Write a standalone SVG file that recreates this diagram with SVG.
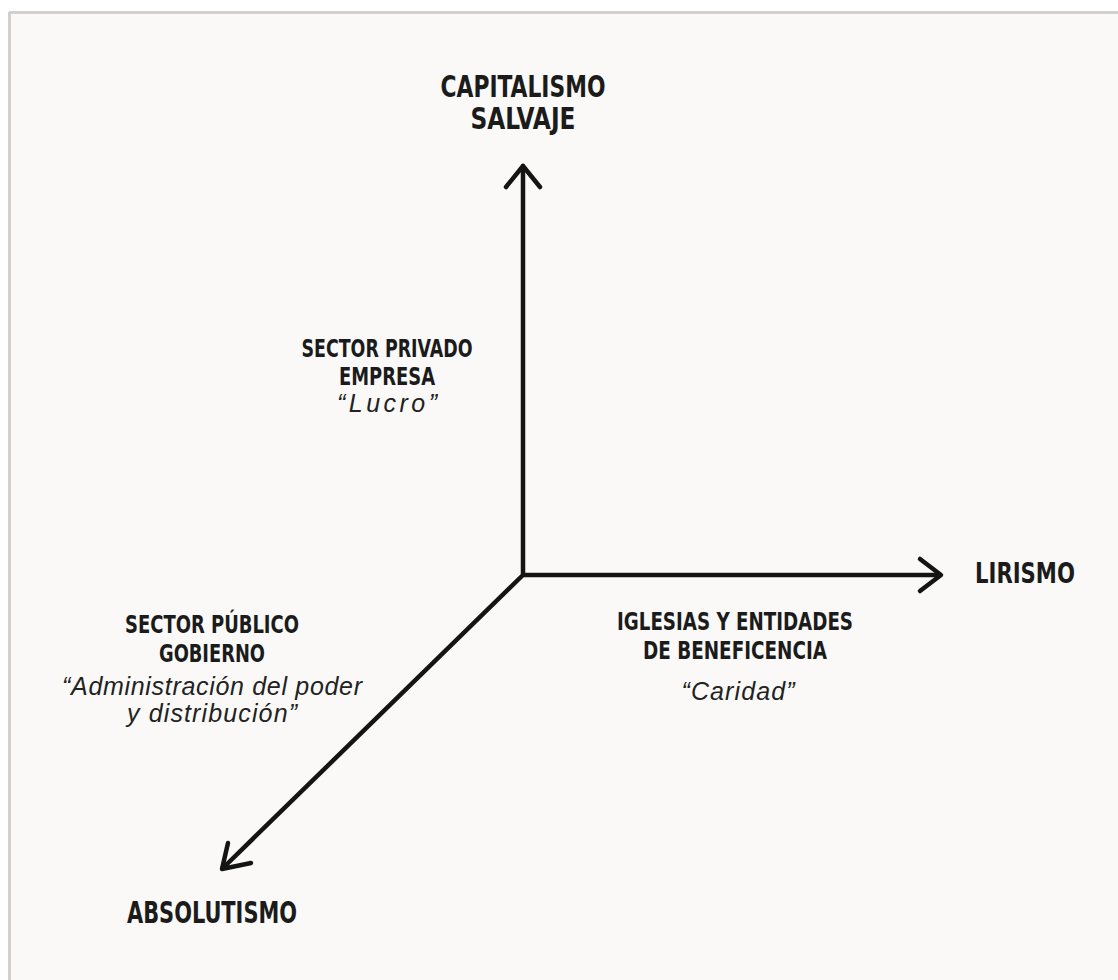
<svg xmlns="http://www.w3.org/2000/svg" width="1118" height="980" viewBox="0 0 1118 980">
<style>
.b{font-family:"Liberation Sans Narrow","DejaVu Sans Condensed","Liberation Sans",sans-serif;font-weight:bold;fill:#1b1b1b;text-anchor:middle}
.i{font-family:"Liberation Sans","Helvetica",sans-serif;font-style:italic;fill:#222;text-anchor:middle;font-size:25px}
.ax{stroke:#141414;stroke-width:4.5;fill:none;stroke-linecap:round;stroke-linejoin:round}
</style>
<rect x="0" y="0" width="1118" height="980" fill="#ffffff"/>
<rect x="9" y="12" width="1109" height="968" fill="#faf9f7"/>
<path d="M9 12.5H1118M9.5 12V980" stroke="#d2d0cd" stroke-width="3" fill="none"/>
<g id="connectors">
<path class="ax" d="M523 575V166M523 575H940M523 575L223 868"/>
<path class="ax" d="M506 187L523 166L540 187"/>
<path class="ax" d="M920 559L941 575L920 591"/>
<path class="ax" d="M228 843L222 869L251 863"/>
</g>
<g id="capitalismo">
<text class="b" x="523" y="97" font-size="30" textLength="165" lengthAdjust="spacingAndGlyphs">CAPITALISMO</text>
<text class="b" x="523" y="129" font-size="30" textLength="105" lengthAdjust="spacingAndGlyphs">SALVAJE</text>
</g>
<g id="privado">
<text class="b" x="387" y="357" font-size="24" textLength="171" lengthAdjust="spacingAndGlyphs">SECTOR PRIVADO</text>
<text class="b" x="387" y="385" font-size="24" textLength="96" lengthAdjust="spacingAndGlyphs">EMPRESA</text>
<text class="i" x="387" y="412" textLength="100" lengthAdjust="spacing">“Lucro”</text>
</g>
<g id="lirismo">
<text class="b" x="1025" y="583" font-size="29" textLength="100" lengthAdjust="spacingAndGlyphs">LIRISMO</text>
</g>
<g id="publico">
<text class="b" x="212" y="633" font-size="24" textLength="174" lengthAdjust="spacingAndGlyphs">SECTOR PÚBLICO</text>
<text class="b" x="212" y="662" font-size="24" textLength="106" lengthAdjust="spacingAndGlyphs">GOBIERNO</text>
<text class="i" x="212" y="695" textLength="300" lengthAdjust="spacing">“Administración del poder</text>
<text class="i" x="212" y="722" textLength="170" lengthAdjust="spacing">y distribución”</text>
</g>
<g id="iglesias">
<text class="b" x="735" y="630" font-size="24" textLength="236" lengthAdjust="spacingAndGlyphs">IGLESIAS Y ENTIDADES</text>
<text class="b" x="735" y="659" font-size="24" textLength="184" lengthAdjust="spacingAndGlyphs">DE BENEFICENCIA</text>
<text class="i" x="738" y="700" textLength="113" lengthAdjust="spacing">“Caridad”</text>
</g>
<g id="absolutismo">
<text class="b" x="212" y="923" font-size="30" textLength="170" lengthAdjust="spacingAndGlyphs">ABSOLUTISMO</text>
</g>
</svg>
